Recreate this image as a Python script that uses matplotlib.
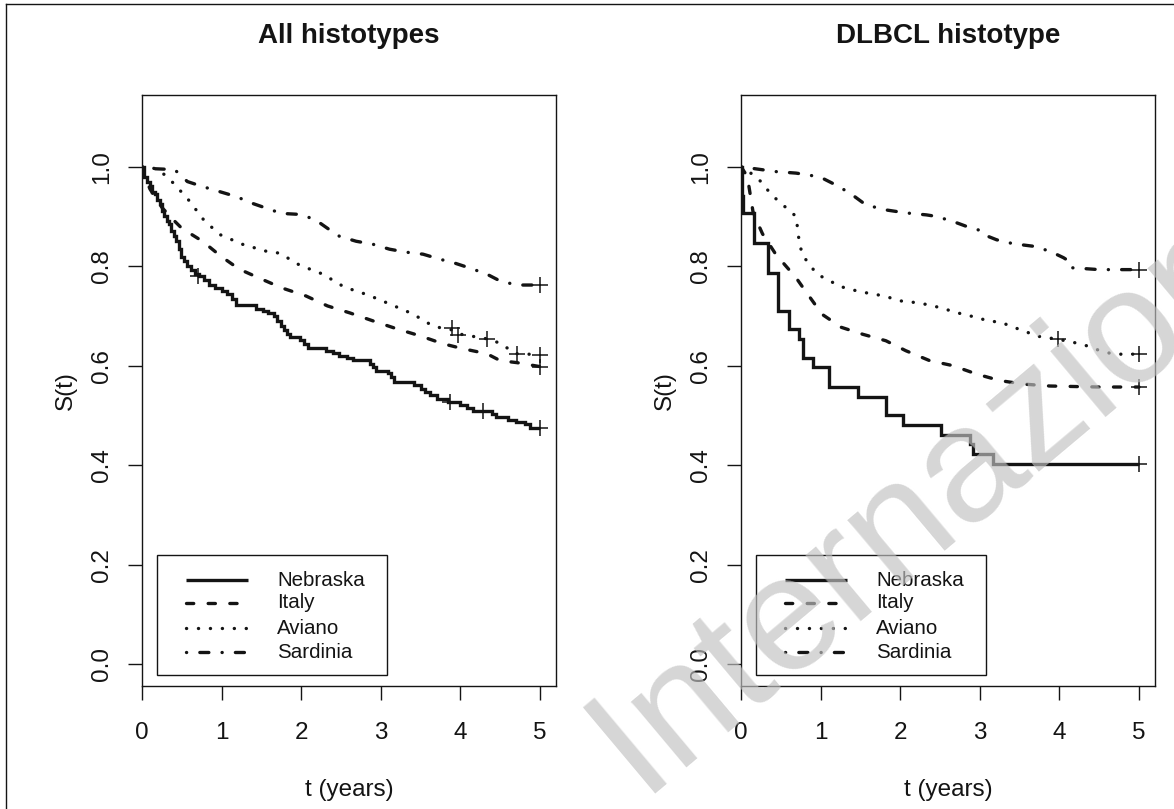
import matplotlib
matplotlib.use("Agg")
import matplotlib.pyplot as plt
from matplotlib.lines import Line2D
from matplotlib.patches import Rectangle

plt.rcParams['font.family'] = ['Liberation Sans', 'DejaVu Sans']
plt.rcParams['lines.scale_dashes'] = False

W, H = 1174, 809
def fx(x): return x / W
def fy(y): return 1 - y / H

# ---------------- data ----------------
titles = ["All histotypes", "DLBCL histotype"]
groups = ["Nebraska", "Italy", "Aviano", "Sardinia"]
x_ticks = [0, 1, 2, 3, 4, 5]
y_ticks = [0.0, 0.2, 0.4, 0.6, 0.8, 1.0]
x_label = "t (years)"
y_label = "S(t)"
watermark = "Internazionali"

# All histotypes
all_neb_t = [0, 0.02, 0.06, 0.10, 0.13, 0.16, 0.19, 0.22, 0.25, 0.28, 0.31, 0.34, 0.37, 0.40, 0.43, 0.46,
             0.49, 0.53, 0.57, 0.62, 0.67, 0.72, 0.78, 0.84, 0.92, 1.00, 1.07, 1.13, 1.18, 1.43, 1.52, 1.58,
             1.66, 1.70, 1.74, 1.78, 1.82, 1.86, 1.98, 2.04, 2.08, 2.31, 2.40, 2.48, 2.57, 2.65, 2.86, 2.90,
             2.94, 3.09, 3.13, 3.17, 3.42, 3.50, 3.56, 3.62, 3.70, 3.84, 3.99, 4.08, 4.16, 4.40, 4.45, 4.60,
             4.70, 4.81, 4.87, 5.0]
all_neb_s = [1.0, 0.98, 0.97, 0.962, 0.95, 0.945, 0.932, 0.925, 0.91, 0.90, 0.89, 0.884, 0.87, 0.86, 0.85, 0.835,
             0.818, 0.81, 0.80, 0.792, 0.785, 0.78, 0.772, 0.762, 0.756, 0.75, 0.744, 0.734, 0.722, 0.714, 0.71, 0.706,
             0.70, 0.69, 0.68, 0.672, 0.664, 0.658, 0.652, 0.644, 0.636, 0.63, 0.626, 0.62, 0.616, 0.612, 0.604, 0.598,
             0.59, 0.586, 0.578, 0.568, 0.562, 0.554, 0.546, 0.54, 0.532, 0.526, 0.52, 0.514, 0.508, 0.502, 0.496, 0.49,
             0.486, 0.482, 0.474, 0.474]
all_neb_cens_t = [0.70, 3.87, 4.28, 5.0]
all_neb_cens_s = [0.78, 0.526, 0.508, 0.474]

all_ita_t = [0, 0.05, 0.10, 0.18, 0.25, 0.35, 0.50, 0.76, 0.99, 1.22, 1.50, 1.76, 2.06, 2.33, 2.61, 2.90,
             3.20, 3.49, 3.78, 4.03, 4.33, 4.50, 4.71, 5.0]
all_ita_s = [1.0, 0.975, 0.955, 0.935, 0.918, 0.90, 0.876, 0.85, 0.82, 0.794, 0.774, 0.756, 0.74, 0.72, 0.706, 0.69,
             0.674, 0.66, 0.644, 0.634, 0.624, 0.61, 0.606, 0.598]
all_ita_cens_t = [5.0]
all_ita_cens_s = [0.598]

all_avi_t = [0, 0.10, 0.20, 0.28, 0.40, 0.58, 0.77, 0.97, 1.26, 1.56, 1.73, 1.98, 2.27, 2.54, 2.84, 3.11,
             3.40, 3.65, 3.80, 3.89, 3.97, 4.33, 4.52, 4.66, 4.71, 5.0]
all_avi_s = [1.0, 0.998, 0.995, 0.984, 0.966, 0.934, 0.894, 0.864, 0.844, 0.83, 0.826, 0.802, 0.784, 0.758, 0.742, 0.724,
             0.704, 0.68, 0.674, 0.672, 0.664, 0.654, 0.644, 0.626, 0.624, 0.622]
all_avi_cens_t = [3.89, 3.97, 4.33, 4.71, 5.0]
all_avi_cens_s = [0.676, 0.662, 0.654, 0.624, 0.622]

all_sar_t = [0, 0.13, 0.41, 0.57, 0.76, 0.97, 1.18, 1.39, 1.57, 1.75, 1.98, 2.17, 2.33, 2.48, 2.69, 2.90,
             3.11, 3.32, 3.53, 3.74, 3.93, 4.12, 4.33, 4.50, 4.71, 5.0]
all_sar_s = [1.0, 0.996, 0.994, 0.97, 0.96, 0.95, 0.94, 0.926, 0.916, 0.906, 0.904, 0.894, 0.876, 0.86, 0.85, 0.844,
             0.834, 0.828, 0.824, 0.814, 0.806, 0.796, 0.784, 0.77, 0.762, 0.762]
all_sar_cens_t = [5.0]
all_sar_cens_s = [0.762]

# DLBCL histotype
dl_neb_t = [0, 0.01, 0.03, 0.164, 0.344, 0.466, 0.605, 0.73, 0.78, 0.90, 1.11, 1.465, 1.82, 2.03, 2.515,
            2.88, 2.91, 3.165, 5.0]
dl_neb_s = [1.0, 0.94, 0.907, 0.847, 0.787, 0.71, 0.673, 0.653, 0.615, 0.597, 0.557, 0.537, 0.50, 0.48, 0.46,
            0.442, 0.422, 0.403, 0.403]
dl_neb_cens_t = [5.0]
dl_neb_cens_s = [0.403]

dl_ita_t = [0, 0.08, 0.12, 0.15, 0.20, 0.27, 0.44, 0.69, 0.84, 1.02, 1.26, 1.53, 1.82, 2.07, 2.37, 2.66,
            2.96, 3.25, 3.54, 3.88, 4.50, 5.0]
dl_ita_s = [1.0, 0.98, 0.94, 0.91, 0.89, 0.865, 0.823, 0.777, 0.743, 0.703, 0.677, 0.663, 0.65, 0.63, 0.61, 0.60,
            0.583, 0.57, 0.563, 0.559, 0.557, 0.557]
dl_ita_cens_t = [5.0]
dl_ita_cens_s = [0.557]

dl_avi_t = [0, 0.10, 0.25, 0.35, 0.466, 0.60, 0.69, 0.71, 0.73, 0.77, 0.86, 0.96, 1.09, 1.23, 1.38, 1.55,
            1.70, 1.86, 2.01, 2.18, 2.33, 2.49, 2.64, 2.79, 2.96, 3.10, 3.27, 3.42, 3.56, 3.69, 3.98, 4.17,
            4.34, 4.51, 4.68, 5.0]
dl_avi_s = [1.0, 0.99, 0.97, 0.95, 0.931, 0.913, 0.90, 0.877, 0.85, 0.823, 0.803, 0.783, 0.773, 0.76, 0.753, 0.747,
            0.743, 0.737, 0.73, 0.727, 0.723, 0.717, 0.71, 0.703, 0.697, 0.69, 0.687, 0.677, 0.67, 0.66, 0.653, 0.647,
            0.64, 0.63, 0.623, 0.623]
dl_avi_cens_t = [3.98, 5.0]
dl_avi_cens_s = [0.653, 0.623]

dl_sar_t = [0, 0.12, 0.44, 0.69, 0.86, 1.02, 1.23, 1.40, 1.57, 1.82, 2.07, 2.33, 2.45, 2.66, 2.83, 3.04,
            3.10, 3.21, 3.42, 3.67, 3.88, 4.05, 4.10, 4.13, 4.50, 5.0]
dl_sar_s = [1.0, 0.997, 0.99, 0.987, 0.983, 0.977, 0.96, 0.943, 0.923, 0.913, 0.907, 0.903, 0.90, 0.89, 0.88, 0.87,
            0.86, 0.853, 0.845, 0.84, 0.83, 0.817, 0.812, 0.797, 0.793, 0.793]
dl_sar_cens_t = [5.0]
dl_sar_cens_s = [0.793]

panels = [
    [(all_neb_t, all_neb_s, all_neb_cens_t, all_neb_cens_s, True),
     (all_ita_t, all_ita_s, all_ita_cens_t, all_ita_cens_s, False),
     (all_avi_t, all_avi_s, all_avi_cens_t, all_avi_cens_s, False),
     (all_sar_t, all_sar_s, all_sar_cens_t, all_sar_cens_s, False)],
    [(dl_neb_t, dl_neb_s, dl_neb_cens_t, dl_neb_cens_s, True),
     (dl_ita_t, dl_ita_s, dl_ita_cens_t, dl_ita_cens_s, False),
     (dl_avi_t, dl_avi_s, dl_avi_cens_t, dl_avi_cens_s, False),
     (dl_sar_t, dl_sar_s, dl_sar_cens_t, dl_sar_cens_s, False)],
]

# ---------------- styles ----------------
INK = '#141414'
LW = 2.4
styles = [
    dict(linestyle='-', solid_capstyle='butt'),
    dict(linestyle=(0, (5.2, 10.4)), dash_capstyle='round'),
    dict(linestyle=(0, (0.1, 8.5)), dash_capstyle='round'),
    dict(linestyle=(0, (0.1, 9.5, 6.5, 9.5)), dash_capstyle='round'),
]

fig = plt.figure(figsize=(W / 100, H / 100), dpi=100)
fig.patch.set_facecolor('white')

# outer frame (top and left edges visible)
fig.add_artist(Line2D([fx(6), fx(6)], [fy(4), fy(812)], transform=fig.transFigure, color=INK, lw=1.0))
fig.add_artist(Line2D([fx(6), fx(1180)], [fy(4), fy(4)], transform=fig.transFigure, color=INK, lw=1.0))

box_lefts = [142, 741]
box_w = 414
box_top, box_bot = 95, 686

for k, (title, series) in enumerate(zip(titles, panels)):
    L = box_lefts[k]
    ax = fig.add_axes([fx(L), fy(box_bot), box_w / W, (box_bot - box_top) / H])
    ax.set_xlim(0, 5.2)
    ax.set_ylim(-0.044, 1.144)
    for (t, s, ct, cs, step), st in zip(series, styles):
        ax.plot(t, s, color=INK, lw=LW, drawstyle='steps-post' if step else 'default',
                solid_joinstyle='miter', **st)
        ax.plot(ct, cs, linestyle='none', marker='+', markersize=11.5, mew=1.1, color=INK)
    for sp in ax.spines.values():
        sp.set_linewidth(1.0)
        sp.set_color(INK)
    ax.set_xticks(x_ticks)
    ax.set_xticklabels([str(v) for v in x_ticks])
    ax.set_yticks(y_ticks)
    ax.set_yticklabels([f"{v:.1f}" for v in y_ticks], rotation=90, va='center', ha='right')
    ax.tick_params(axis='both', direction='out', length=10, width=1.0, color=INK,
                   labelsize=17.5, labelcolor=INK)
    ax.tick_params(axis='x', pad=16)
    ax.tick_params(axis='y', pad=11)
    ax.set_xlabel(x_label, fontsize=17.5, color=INK, labelpad=25)
    ax.set_ylabel(y_label, fontsize=17.5, color=INK, labelpad=10)

    # title
    fig.text(fx(L + box_w / 2), fy(36), title, ha='center', va='center',
             fontsize=20, fontweight='bold', color=INK)

    # legend box (drawn manually to match R's layout)
    lx0, lx1 = L + 15, L + 245
    ly0, ly1 = 555, 675
    fig.add_artist(Rectangle((fx(lx0), fy(ly1)), (lx1 - lx0) / W, (ly1 - ly0) / H,
                             transform=fig.transFigure, fill=False, edgecolor=INK, lw=1.0))
    rows = [580, 603, 628, 652]
    for name, st, yy in zip(groups, styles, rows):
        fig.add_artist(Line2D([fx(L + 44), fx(L + 106)], [fy(yy), fy(yy)], transform=fig.transFigure,
                              color=INK, lw=LW, **st))
        fig.text(fx(L + 135), fy(yy), name, ha='left', va='center', fontsize=14.8, color=INK)

# watermark (semi-transparent, over the plot like in the reference)
fig.text(fx(641), fy(793), watermark, rotation=40, rotation_mode='anchor',
         ha='left', va='baseline', fontsize=118, color='#c1c1c1', alpha=0.66, zorder=20)

fig.savefig('out.png', dpi=100, facecolor='white')
